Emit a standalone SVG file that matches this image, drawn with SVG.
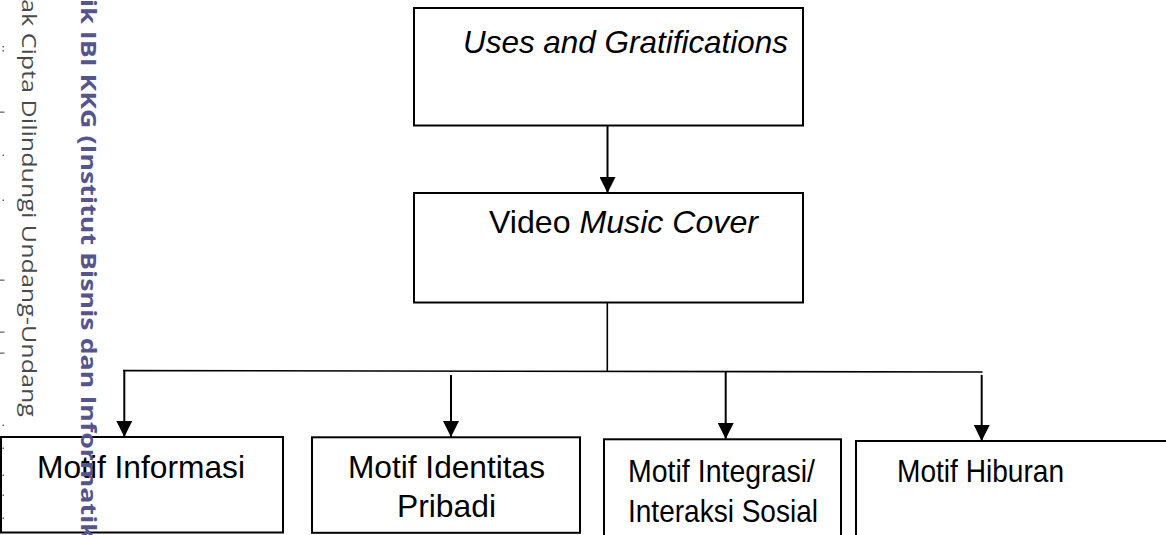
<svg xmlns="http://www.w3.org/2000/svg" width="1166" height="535" viewBox="0 0 1166 535">
  <style>
    .box { fill: none; stroke: #000; stroke-width: 2; }
    .lbl { font-family: "Liberation Sans", Arial, sans-serif; font-size: 32px; fill: #000; }
    .it { font-style: italic; }
    .conn { stroke: #000; stroke-width: 2; fill: none; }
    .thin { stroke: #000; stroke-width: 1.6; fill: none; }
    .wm-gray { font-family: "Open Sans", "DejaVu Sans", sans-serif; font-weight: 400; font-size: 20px; fill: #4a4a4a; }
    .wm-blue { font-family: "Open Sans", "DejaVu Sans", sans-serif; font-weight: 700; font-size: 20.5px; fill: #55558c; }
    .mark { fill: #666; }
  </style>
  <defs>
    <marker id="ah" viewBox="0 0 10 10" refX="10" refY="5" markerWidth="8" markerHeight="8" markerUnits="strokeWidth" orient="auto">
      <path d="M0,0 L10,5 L0,10 z" fill="#000"/>
    </marker>
  </defs>

  <rect width="1166" height="535" fill="#fff"/>

  <g id="connectors">
    <line class="conn" x1="607.5" y1="126" x2="607.5" y2="193" marker-end="url(#ah)"/>
    <line class="thin" x1="607.3" y1="303" x2="607.3" y2="371"/>
    <line class="thin" x1="123" y1="370.6" x2="982.5" y2="372"/>
    <line class="conn" x1="124.3" y1="371" x2="124.3" y2="437" marker-end="url(#ah)"/>
    <line class="conn" x1="451" y1="375" x2="451" y2="437" marker-end="url(#ah)"/>
    <line class="conn" x1="725.7" y1="371" x2="725.7" y2="439" marker-end="url(#ah)"/>
    <line class="conn" x1="981.7" y1="375" x2="981.7" y2="441" marker-end="url(#ah)"/>
  </g>

  <g id="node-uses">
    <rect class="box" x="414" y="8" width="389" height="117.5"/>
    <text class="lbl it" x="463" y="53" textLength="325" lengthAdjust="spacingAndGlyphs">Uses and Gratifications</text>
  </g>

  <g id="node-video">
    <rect class="box" x="414" y="193" width="389" height="109.5"/>
    <text class="lbl" x="489" y="233" textLength="269" lengthAdjust="spacingAndGlyphs">Video <tspan class="it">Music Cover</tspan></text>
  </g>

  <g id="node-informasi">
    <rect class="box" x="1" y="437" width="282" height="95.5"/>
    <text class="lbl" x="37" y="478" textLength="208" lengthAdjust="spacingAndGlyphs">Motif Informasi</text>
  </g>

  <g id="node-identitas">
    <rect class="box" x="312" y="437.3" width="268" height="95.5"/>
    <text class="lbl" x="348" y="478" textLength="197" lengthAdjust="spacingAndGlyphs">Motif Identitas</text>
    <text class="lbl" x="397" y="517" textLength="99" lengthAdjust="spacingAndGlyphs">Pribadi</text>
  </g>

  <g id="node-integrasi">
    <rect class="box" x="604" y="439.3" width="237" height="100"/>
    <text class="lbl" x="628" y="482" textLength="187" lengthAdjust="spacingAndGlyphs">Motif Integrasi/</text>
    <text class="lbl" x="628" y="522" textLength="190" lengthAdjust="spacingAndGlyphs">Interaksi Sosial</text>
  </g>

  <g id="node-hiburan">
    <rect class="box" x="856" y="441" width="320" height="100"/>
    <text class="lbl" x="897" y="482" textLength="167" lengthAdjust="spacingAndGlyphs">Motif Hiburan</text>
  </g>

  <g id="watermark">
    <text class="wm-gray" transform="translate(21.5,0) rotate(90)" x="-1" y="0" textLength="418" lengthAdjust="spacingAndGlyphs">ak Cipta Dilindungi Undang-Undang</text>
    <text class="wm-blue" transform="translate(81,0) rotate(90)" x="-1" y="0" textLength="541" lengthAdjust="spacingAndGlyphs">ik IBI KKG (Institut Bisnis dan Informatik</text>
    <rect class="mark" x="2.5" y="46" width="1.5" height="1.5"/>
    <rect class="mark" x="2.5" y="50" width="1.5" height="1.5"/>
    <rect class="mark" x="0" y="111.5" width="4.5" height="1.3"/>
    <rect class="mark" x="2.5" y="154.5" width="1.5" height="1.5"/>
    <rect class="mark" x="2.5" y="199.5" width="1.5" height="1.5"/>
    <rect class="mark" x="0" y="279.5" width="4.5" height="1.3"/>
    <rect class="mark" x="0" y="331.5" width="4.5" height="1.3"/>
    <rect class="mark" x="0" y="352.5" width="4.5" height="1.3"/>
    <rect class="mark" x="2.5" y="424.5" width="1.5" height="1.5"/>
    <rect class="mark" x="2.5" y="447.5" width="1.5" height="1.5"/>
    <rect class="mark" x="2.5" y="474.5" width="1.5" height="1.5"/>
    <rect class="mark" x="2.5" y="494.5" width="1.5" height="1.5"/>
    <rect class="mark" x="2.5" y="517.5" width="1.5" height="1.5"/>
  </g>
</svg>
